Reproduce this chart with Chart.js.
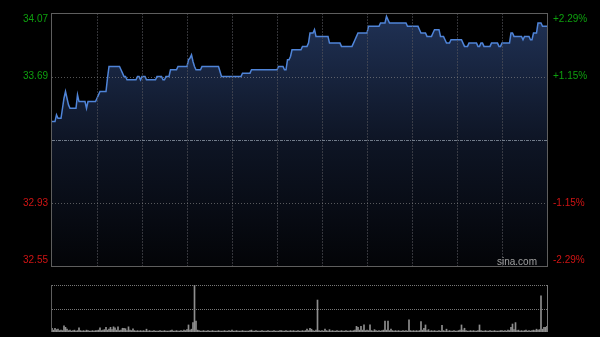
<!DOCTYPE html>
<html><head><meta charset="utf-8">
<script src="https://cdn.jsdelivr.net/npm/chart.js@4.4.1/dist/chart.umd.min.js"></script>
<style>
html,body{margin:0;padding:0;background:#000;width:600px;height:337px;overflow:hidden}
#w1{position:absolute;left:0;top:0;width:600px;height:280px}
#w2{position:absolute;left:0;top:280px;width:600px;height:57px}
canvas{display:block}
</style></head><body>
<div id="w1"><canvas id="main" width="600" height="280"></canvas></div>
<div id="w2"><canvas id="vol" width="600" height="57"></canvas></div>
<script>
// ---- data ----
const prevClose = 33.31;
const priceMin = 32.55;
const priceMax = 34.07;
const priceTicks = [34.07, 33.69, 32.93, 32.55];
const priceTickLabels = ['34.07', '33.69', '32.93', '32.55'];
const pctLabels = ['+2.29%', '+1.15%', '-1.15%', '-2.29%'];
const gridPrices = [33.69, 32.93];
const timeGridMinutes = [30, 60, 90, 120, 150, 180, 210, 240, 270, 300];
const totalMinutes = 330;
const volMax = 100;
const volGrid = [50];
const watermark = 'sina.com';

const prices = [
33.42,33.42,33.42,33.46,33.44,33.44,33.44,33.50,33.56,33.60,
33.56,33.52,33.50,33.50,33.50,33.50,33.50,33.58,33.54,33.54,
33.54,33.54,33.54,33.50,33.54,33.54,33.54,33.54,33.54,33.54,
33.56,33.58,33.60,33.60,33.60,33.60,33.60,33.68,33.75,33.75,
33.75,33.75,33.75,33.75,33.75,33.75,33.73,33.71,33.69,33.69,
33.67,33.67,33.67,33.67,33.67,33.67,33.67,33.69,33.69,33.67,
33.69,33.69,33.69,33.67,33.67,33.67,33.67,33.67,33.67,33.67,
33.69,33.69,33.69,33.69,33.67,33.67,33.69,33.69,33.69,33.73,
33.73,33.73,33.73,33.73,33.75,33.75,33.75,33.75,33.75,33.75,
33.75,33.79,33.80,33.82,33.78,33.75,33.73,33.73,33.73,33.73,
33.75,33.75,33.75,33.75,33.75,33.75,33.75,33.75,33.75,33.75,
33.75,33.75,33.72,33.69,33.69,33.69,33.69,33.69,33.69,33.69,
33.69,33.69,33.69,33.69,33.69,33.69,33.69,33.71,33.71,33.71,
33.71,33.71,33.71,33.73,33.73,33.73,33.73,33.73,33.73,33.73,
33.73,33.73,33.73,33.73,33.73,33.73,33.73,33.73,33.73,33.73,
33.73,33.75,33.75,33.75,33.75,33.73,33.73,33.79,33.79,33.81,
33.85,33.85,33.85,33.85,33.85,33.85,33.85,33.87,33.87,33.87,
33.87,33.89,33.95,33.95,33.95,33.97,33.93,33.93,33.93,33.93,
33.93,33.93,33.93,33.93,33.93,33.89,33.89,33.89,33.89,33.89,
33.89,33.89,33.89,33.87,33.87,33.87,33.87,33.87,33.87,33.87,
33.87,33.89,33.91,33.93,33.95,33.95,33.95,33.95,33.95,33.95,
33.95,33.99,33.99,33.99,33.99,33.99,33.99,33.99,33.99,34.01,
34.01,34.01,34.01,34.05,34.03,34.01,34.01,34.01,34.01,34.01,
34.01,34.01,34.01,34.01,34.01,34.01,34.01,33.99,33.99,33.99,
33.99,33.99,33.99,33.99,33.99,33.97,33.95,33.95,33.95,33.95,
33.93,33.93,33.93,33.93,33.95,33.97,33.97,33.97,33.97,33.93,
33.93,33.93,33.91,33.89,33.89,33.89,33.91,33.91,33.91,33.91,
33.91,33.91,33.91,33.91,33.89,33.87,33.87,33.87,33.89,33.89,
33.89,33.89,33.89,33.89,33.87,33.87,33.89,33.89,33.87,33.87,
33.87,33.87,33.87,33.89,33.89,33.89,33.89,33.89,33.87,33.87,
33.89,33.89,33.89,33.89,33.89,33.89,33.95,33.95,33.93,33.93,
33.93,33.93,33.93,33.93,33.91,33.93,33.93,33.93,33.93,33.91,
33.91,33.95,33.95,33.95,34.01,34.01,34.01,33.99,33.99,33.99,33.99
];

const volumes = [
8,4,8,5,6,3,4,3,13,10,
6,3,4,2,3,4,2,3,9,3,
2,3,2,4,3,2,2,3,2,3,
3,4,9,3,4,5,10,4,6,10,
5,11,9,4,11,3,4,8,8,7,
3,11,4,3,7,3,2,3,2,3,
2,3,2,6,2,3,2,2,3,2,
2,2,3,2,2,3,2,2,2,3,
4,2,2,3,2,2,3,2,4,3,
5,15,4,6,20,100,23,4,3,2,
2,3,2,2,3,2,2,3,2,2,
2,3,2,2,2,3,2,2,3,2,
4,2,2,3,2,2,2,3,2,2,
2,2,3,4,2,2,3,2,2,2,
3,2,2,2,3,2,2,2,3,2,
2,2,3,3,2,2,3,2,2,3,
2,3,2,2,3,2,2,3,2,3,
6,3,8,6,3,2,4,68,3,2,
3,2,6,3,2,5,2,3,2,2,
3,2,2,3,2,2,3,2,2,3,
2,3,4,12,10,4,12,4,15,3,
4,3,15,3,2,5,3,2,3,2,
3,4,23,4,23,3,6,3,2,3,
2,3,2,2,3,2,3,2,26,3,
2,3,2,3,2,3,22,4,8,15,
3,5,2,3,2,3,2,2,3,2,
14,3,2,6,2,3,2,2,3,2,
2,3,4,15,4,8,3,2,2,3,
2,3,2,2,3,15,3,2,2,3,
2,2,3,2,2,3,2,2,2,3,
3,2,3,2,4,3,10,17,5,20,
3,4,2,3,2,3,4,2,3,2,
3,4,3,6,4,5,77,6,10,10,12
];

// ---- styles ----
const FONT = '10px "Liberation Sans", Arial, Helvetica, sans-serif';
const UP = '#0ea00e';
const DOWN = '#d01414';
const BORDER = '#5e5e5e';

function hline(ctx, x1, x2, y, color, dash) {
  ctx.save(); ctx.strokeStyle = color; ctx.lineWidth = 1; ctx.setLineDash(dash);
  ctx.beginPath(); ctx.moveTo(x1, y); ctx.lineTo(x2, y); ctx.stroke(); ctx.restore();
}
function vline(ctx, x, y1, y2, color, dash) {
  ctx.save(); ctx.strokeStyle = color; ctx.lineWidth = 1; ctx.setLineDash(dash);
  ctx.beginPath(); ctx.moveTo(x, y1); ctx.lineTo(x, y2); ctx.stroke(); ctx.restore();
}

const mainDecor = {
  id: 'mainDecor',
  afterDatasetsDraw(chart) {
    const {ctx, chartArea: a, scales: {x, y}} = chart;
    timeGridMinutes.forEach(m => {
      const px = Math.round(x.getPixelForValue(m)) + 0.5;
      vline(ctx, px, a.top, a.bottom, 'rgba(85,85,92,0.6)', [2, 1]);
    });
    gridPrices.forEach(p => {
      const py = Math.round(y.getPixelForValue(p)) + 0.5;
      hline(ctx, a.left, a.right, py, 'rgba(140,140,140,0.6)', [1, 2]);
    });
    const pc = Math.round(y.getPixelForValue(prevClose)) + 0.5;
    hline(ctx, a.left, a.right, pc, 'rgba(125,135,150,0.9)', [3, 1, 1, 1]);
  },
  afterDraw(chart) {
    const {ctx, chartArea: a, scales: {y}} = chart;
    ctx.save();
    ctx.strokeStyle = BORDER; ctx.lineWidth = 1;
    ctx.strokeRect(a.left - 0.5, a.top + 0.5, a.right - a.left + 1, a.bottom - a.top - 1);
    ctx.font = FONT; ctx.textBaseline = 'middle';
    priceTicks.forEach((p, i) => {
      let py = y.getPixelForValue(p);
      py = Math.max(a.top + 6, Math.min(a.bottom - 7, py));
      ctx.fillStyle = p > prevClose ? UP : DOWN;
      ctx.textAlign = 'right';
      ctx.fillText(priceTickLabels[i], a.left - 4, py);
      ctx.textAlign = 'left';
      ctx.fillText(pctLabels[i], a.right + 6, py);
    });
    ctx.fillStyle = '#a0a0a0'; ctx.textAlign = 'right';
    ctx.fillText(watermark, a.right - 10, a.bottom - 5);
    ctx.restore();
  }
};

new Chart(document.getElementById('main'), {
  type: 'line',
  data: {
    datasets: [{
      data: prices.map((p, i) => ({x: i, y: p})),
      borderColor: '#4f84d8',
      borderWidth: 1.5,
      pointRadius: 0,
      tension: 0,
      fill: 'start',
      backgroundColor: (c) => {
        const ch = c.chart; const a = ch.chartArea;
        if (!a) return 'rgba(20,30,50,1)';
        const g = ch.ctx.createLinearGradient(0, a.top, 0, a.bottom);
        g.addColorStop(0, 'rgb(32,50,86)');
        g.addColorStop(0.5, 'rgb(14,21,37)');
        g.addColorStop(1, 'rgb(3,4,7)');
        return g;
      }
    }]
  },
  options: {
    responsive: false, animation: false, events: [],
    layout: {padding: {left: 52, right: 53, top: 13, bottom: 13}},
    scales: {
      x: {type: 'linear', min: 0, max: totalMinutes, display: false},
      y: {min: priceMin, max: priceMax, display: false}
    },
    plugins: {legend: {display: false}, tooltip: {enabled: false}}
  },
  plugins: [mainDecor]
});

const volDecor = {
  id: 'volDecor',
  beforeDatasetsDraw(chart) {
    const {ctx, chartArea: a, scales: {y}} = chart;
    hline(ctx, a.left, a.right, Math.round(a.top) + 0.5, 'rgba(150,150,150,0.8)', [1, 1]);
    volGrid.forEach(v => {
      hline(ctx, a.left, a.right, Math.round(y.getPixelForValue(v)) + 0.5, 'rgba(150,150,150,0.8)', [1, 1]);
    });
  },
  afterDraw(chart) {
    const {ctx, chartArea: a} = chart;
    vline(ctx, a.left - 0.5, a.top, a.bottom, BORDER, []);
    vline(ctx, a.right + 0.5, a.top, a.bottom, '#7a7a7a', []);
  }
};

new Chart(document.getElementById('vol'), {
  type: 'bar',
  data: {
    datasets: [{
      data: volumes.map((v, i) => ({x: i, y: v})),
      backgroundColor: '#8e8e8e',
      borderWidth: 0,
      barThickness: 1
    }]
  },
  options: {
    responsive: false, animation: false, events: [],
    layout: {padding: {left: 52, right: 53, top: 5, bottom: 5}},
    scales: {
      x: {type: 'linear', min: 0, max: totalMinutes, display: false, offset: false},
      y: {min: 0, max: volMax, display: false}
    },
    plugins: {legend: {display: false}, tooltip: {enabled: false}}
  },
  plugins: [volDecor]
});
</script>
</body></html>
